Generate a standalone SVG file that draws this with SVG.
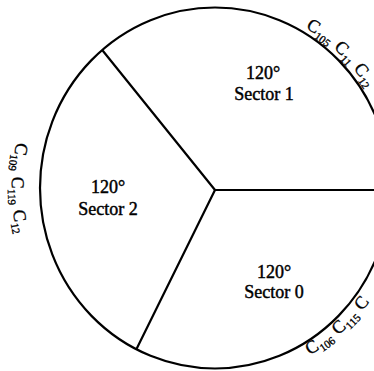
<svg xmlns="http://www.w3.org/2000/svg" width="374" height="371" viewBox="0 0 374 371">
<style>
.ln{stroke:#000;stroke-width:2.2;fill:none;stroke-linecap:round}
.t{font-family:"Liberation Serif","Times New Roman",serif;font-size:18px;fill:#000;stroke:#000;stroke-width:0.45;text-anchor:middle}
.c{font-family:"Liberation Serif","Times New Roman",serif;font-size:18px;fill:#000;stroke:#000;stroke-width:0.35}
.s{font-size:11px}
</style>
<defs>
<path id="pTop" d="M 305.5,27.8 A 181 185 0 0 1 396,188"/>
<path id="pBot" d="M 301,360 A 193 197 0 0 0 408,188"/>
<path id="pLeft" d="M 39,83 A 203 210 0 0 0 39,293"/>
</defs>
<rect width="374" height="371" fill="#fff"/>
<g id="outline">
<ellipse class="ln" cx="215" cy="188" rx="175" ry="180.5" stroke-width="2.5"/>
</g>
<g id="connectors">
<line class="ln" x1="215" y1="190" x2="103" y2="51"/>
<line class="ln" x1="215" y1="190" x2="137" y2="348"/>
<line class="ln" x1="215" y1="190" x2="380" y2="190"/>
</g>
<g id="sector1">
<text class="t" x="263" y="79">120°</text>
<text class="t" x="264" y="100">Sector 1</text>
</g>
<g id="sector2">
<text class="t" x="108" y="193">120°</text>
<text class="t" x="108" y="215">Sector 2</text>
</g>
<g id="sector0">
<text class="t" x="274" y="278">120°</text>
<text class="t" x="274" y="298">Sector 0</text>
</g>
<g id="arc-labels">
<text class="c"><textPath href="#pTop">C<tspan class="s" dy="4" dx="0.5">105</tspan><tspan dy="-4" dx="1"> C</tspan><tspan class="s" dy="4" dx="0.5">11</tspan><tspan dy="-4" dx="1"> C</tspan><tspan class="s" dy="4" dx="0.5">12</tspan></textPath></text>
<text class="c"><textPath href="#pBot" startOffset="10">C<tspan class="s" dy="4" dx="0.5">106</tspan><tspan dy="-4" dx="1"> C</tspan><tspan class="s" dy="4" dx="0.5">115</tspan><tspan dy="-4" dx="1"> C</tspan></textPath></text>
<text class="c" text-anchor="middle"><textPath href="#pLeft" startOffset="50%">C<tspan class="s" dy="4" dx="0.5">109</tspan><tspan dy="-4" dx="1"> C</tspan><tspan class="s" dy="4" dx="0.5">119</tspan><tspan dy="-4" dx="1"> C</tspan><tspan class="s" dy="4" dx="0.5">12</tspan></textPath></text>
</g>
</svg>
